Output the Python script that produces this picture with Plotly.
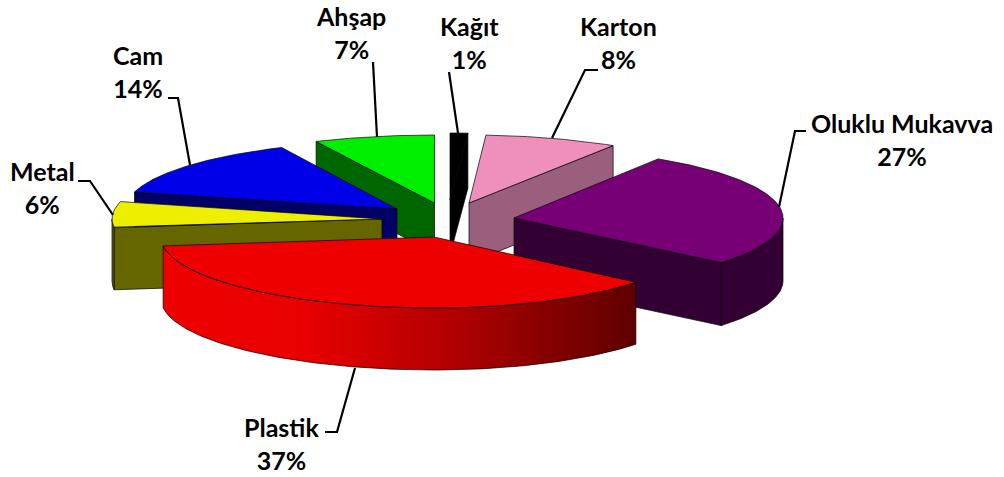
import numpy as np
import plotly.graph_objects as go

categories = ["Kağıt", "Karton", "Oluklu Mukavva", "Plastik", "Metal", "Cam", "Ahşap"]
values = [1, 8, 27, 37, 6, 14, 7]

# styling / placement of each exploded slice (pixel-space axes)
top_colors = ["#000000", "#ee90bb", "#770077", "#ee0000", "#eeee00", "#0000e8", "#00ee00"]
side_colors = ["#000000", "#9a5f7c", "#330033", "#aa0000", "#666600", "#000066", "#006600"]
apex_x = [450, 469, 514, 434, 382, 397, 434.5]
apex_y = [200, 203, 218, 237, 219, 209, 203]
radius_right = [285, 269, 269, 262, 270, 270, 270]
radius_left = [270, 270, 270, 273, 270, 271, 278]
radius_y = [67, 68, 70, 71, 70, 68, 68]
depth = [55, 60, 63, 62, 62, 45, 50]
draw_order = [6, 5, 4, 1, 0, 2, 3]

label_text = ["Kağıt<br>1%", "Karton<br>8%", "Oluklu Mukavva<br>27%", "Plastik<br>37%",
              "Metal<br>6%", "Cam<br>14%", "Ahşap<br>7%"]
label_x = [469, 618, 902, 281, 42, 138, 351]
label_y = [42, 42, 139, 443, 187, 71, 32]
leader_x = [[449, 458], [552, 585, 598], [779, 795, 806], [355, 337, 325], [113, 90, 78], [190, 178, 168], [377, 373]]
leader_y = [[72, 133], [138, 70, 70], [207, 131, 131], [368, 432, 432], [215, 181, 181], [165, 98, 98], [137, 62]]

fig = go.Figure()
fractions = np.cumsum([0] + values) / sum(values)


def pt(i, th):
    s = np.sin(th)
    rx = np.where(s >= 0, radius_right[i], radius_left[i])
    return apex_x[i] + rx * s, apex_y[i] - radius_y[i] * np.cos(th)


edge = dict(color="#000000", width=0.7)
for i in draw_order:
    t0, t1 = 2 * np.pi * fractions[i], 2 * np.pi * fractions[i + 1]
    d = depth[i]
    # radial side faces that turn towards the viewer
    visible = []
    if np.sin(t0) < -1e-9:
        visible.append(t0)
    if np.sin(t1) > 1e-9:
        visible.append(t1)
    for a in visible:
        ex, ey = pt(i, a)
        fig.add_trace(go.Scatter(
            x=[apex_x[i], ex, ex, apex_x[i], apex_x[i]],
            y=[apex_y[i], ey, ey + d, apex_y[i] + d, apex_y[i]],
            mode="lines", fill="toself", fillcolor=side_colors[i],
            line=edge, hoverinfo="skip"))
    # outer wall: only the front half of the rim shows
    w0, w1 = max(t0, np.pi / 2), min(t1, 3 * np.pi / 2)
    if w1 > w0:
        wx, wy = pt(i, np.linspace(w0, w1, 120))
        wall = dict(x=np.r_[wx, wx[::-1], wx[0]], y=np.r_[wy, wy[::-1] + d, wy[0]],
                    mode="lines", fill="toself", hoverinfo="skip")
        if categories[i] == "Plastik":
            fig.add_trace(go.Scatter(**wall, line=edge,
                                     fillgradient=dict(type="horizontal", colorscale=[
                                         [0, "#ee0000"], [0.3, "#e80000"], [0.62, "#b00000"], [1, "#5f0000"]])))
        else:
            fig.add_trace(go.Scatter(**wall, fillcolor=side_colors[i], line=edge))
    # top face
    x, y = pt(i, np.linspace(t0, t1, 120))
    fig.add_trace(go.Scatter(
        x=np.r_[apex_x[i], x, apex_x[i]], y=np.r_[apex_y[i], y, apex_y[i]],
        mode="lines", fill="toself", fillcolor=top_colors[i],
        line=edge, hoverinfo="skip"))

for lx, ly in zip(leader_x, leader_y):
    fig.add_trace(go.Scatter(x=lx, y=ly, mode="lines", line=dict(color="#000000", width=2.2), hoverinfo="skip"))

for t, x0, y0 in zip(label_text, label_x, label_y):
    bold = "<br>".join("<b>" + part + "</b>" for part in t.split("<br>"))
    fig.add_annotation(x=x0, y=y0, text=bold, showarrow=False, xanchor="center", yanchor="middle",
                       font=dict(family="Lato", size=25, color="#000000"))

fig.update_layout(
    width=1004, height=477, autosize=False, showlegend=False,
    paper_bgcolor="#ffffff", plot_bgcolor="#ffffff",
    margin=dict(l=0, r=0, t=0, b=0),
    xaxis=dict(range=[0, 1004], visible=False, fixedrange=True),
    yaxis=dict(range=[477, 0], visible=False, fixedrange=True),
)
fig.write_html("out.html", config={"displayModeBar": False},
               post_script="document.body.style.margin='0';document.documentElement.style.overflow='hidden';")
